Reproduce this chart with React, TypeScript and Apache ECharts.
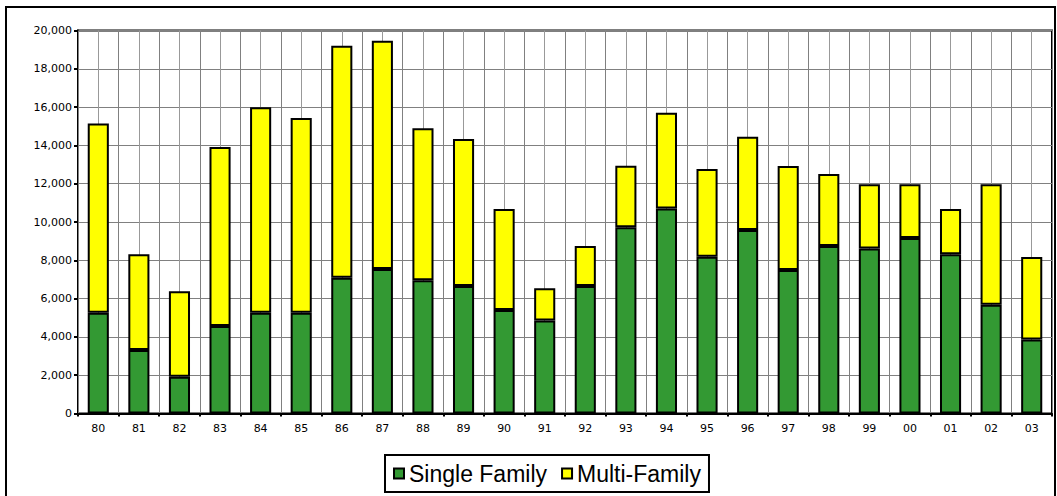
import React, { useEffect, useRef } from "react";
import * as echarts from "echarts";

const years = ["80","81","82","83","84","85","86","87","88","89","90","91","92","93","94","95","96","97","98","99","00","01","02","03"];
const singleFamily = [5260,3320,1920,4570,5260,5260,7090,7550,6960,6660,5400,4850,6660,9720,10710,8190,9580,7490,8750,8610,9160,8310,5680,3870];
const totals = [15150,8310,6380,13920,15990,15430,19210,19470,14890,14330,10680,6540,8750,12940,15710,12770,14450,12920,12510,11970,11970,10680,11970,8170];
const multiFamily = totals.map((t, i) => t - singleFamily[i]);
const yTicks = { min: 0, max: 20000, interval: 2000 };
const halfSlots = years.flatMap((y) => [y + "a", y + "b"]);

export default function App() {
  const ref = useRef<HTMLDivElement>(null);
  useEffect(() => {
    if (!ref.current) return;
    const chart = echarts.init(ref.current, null, { renderer: "svg" });
    const axisFont = { fontFamily: "DejaVu Sans", fontSize: 11, color: "#000" };
    const legendItem = { borderColor: "#000", borderWidth: 2 };
    chart.setOption({
      animation: false,
      backgroundColor: "#fff",
      graphic: [
        {
          type: "rect",
          shape: { x: 6, y: 7, width: 1049, height: 500 },
          style: { fill: "none", stroke: "#000", lineWidth: 2 },
          silent: true,
        },
      ],
      grid: {
        left: 78,
        right: 5,
        top: 30.5,
        bottom: 82.5,
        show: true,
        borderColor: "#000",
        borderWidth: 2,
        backgroundColor: "transparent",
      },
      legend: {
        left: 385,
        top: 455,
        padding: [7, 8, 7, 8],
        borderColor: "#000",
        borderWidth: 2,
        backgroundColor: "#fff",
        itemWidth: 10,
        itemHeight: 10,
        itemGap: 14,
        icon: "rect",
        itemStyle: legendItem,
        textStyle: { fontFamily: "Liberation Sans", fontSize: 23, color: "#000" },
        data: [
          { name: "Single Family", itemStyle: legendItem },
          { name: "Multi-Family", itemStyle: legendItem },
        ],
      },
      xAxis: [
        {
          type: "category",
          data: years,
          boundaryGap: true,
          axisLine: { lineStyle: { color: "#000", width: 2 } },
          axisTick: { show: true, length: 3, inside: false, interval: 0, lineStyle: { color: "#000", width: 2 } },
          axisLabel: { ...axisFont, margin: 9, interval: 0 },
          splitLine: { show: true, interval: 0, lineStyle: { color: "#808080", width: 1 } },
          z: 5,
        },
        {
          type: "category",
          data: halfSlots,
          boundaryGap: true,
          position: "bottom",
          axisLine: { show: false },
          axisTick: { show: false, interval: 0 },
          axisLabel: { show: false, interval: 0 },
          splitLine: { show: true, interval: 0, lineStyle: { color: "#999999", width: 1 } },
        },
      ],
      yAxis: {
        type: "value",
        min: yTicks.min,
        max: yTicks.max,
        interval: yTicks.interval,
        axisLine: { show: true, lineStyle: { color: "#000", width: 2 } },
        axisTick: { show: true, length: 4, lineStyle: { color: "#000", width: 2 } },
        axisLabel: {
          ...axisFont,
          margin: 6,
          formatter: (v: number) => v.toLocaleString("en-US"),
        },
        splitLine: { show: true, lineStyle: { color: "#808080", width: 1 } },
      },
      series: [
        {
          name: "Single Family",
          type: "bar",
          stack: "total",
          data: singleFamily,
          barWidth: "52%",
          itemStyle: { color: "#339933", borderColor: "#000", borderWidth: 2 },
          z: 3,
        },
        {
          name: "Multi-Family",
          type: "bar",
          stack: "total",
          data: multiFamily,
          barWidth: "52%",
          itemStyle: { color: "#FFFF00", borderColor: "#000", borderWidth: 2 },
          z: 3,
        },
      ],
    });
    return () => chart.dispose();
  }, []);
  return (
    <div
      ref={ref}
      style={{ position: "fixed", left: 0, top: 0, width: 1057, height: 496, background: "#fff" }}
    />
  );
}
